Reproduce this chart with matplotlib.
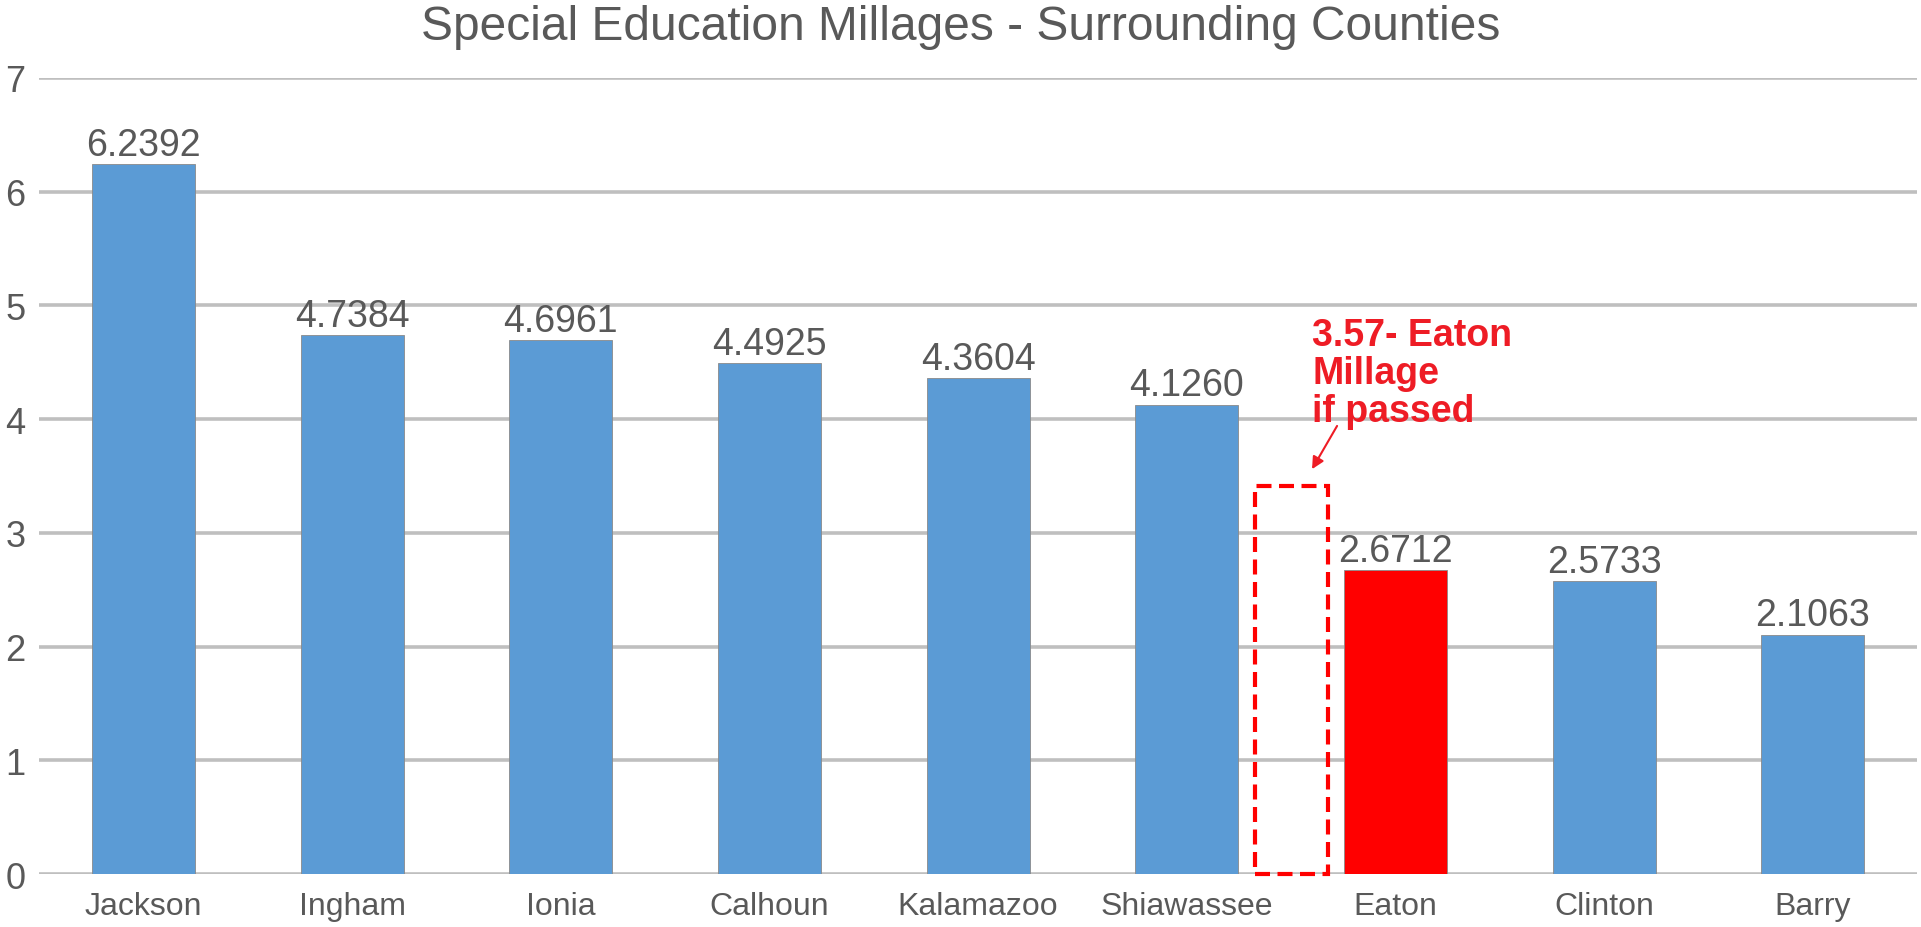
import matplotlib
matplotlib.use("Agg")
import matplotlib.pyplot as plt
from matplotlib.patches import Rectangle

counties = ["Jackson", "Ingham", "Ionia", "Calhoun", "Kalamazoo", "Shiawassee", "Eaton", "Clinton", "Barry"]
millages = [6.2392, 4.7384, 4.6961, 4.4925, 4.3604, 4.1260, 2.6712, 2.5733, 2.1063]
value_labels = ["6.2392", "4.7384", "4.6961", "4.4925", "4.3604", "4.1260", "2.6712", "2.5733", "2.1063"]
highlight = "Eaton"
proposed_value = 3.41  # drawn height of the dashed "if passed" box
annotation_text = "3.57- Eaton\nMillage\nif passed"
yticks = [0, 1, 2, 3, 4, 5, 6, 7]

plt.rcParams['font.family'] = ['Liberation Sans', 'DejaVu Sans']

BLUE = "#5b9bd5"
RED = "#ff0000"
GRAY_TXT = "#595959"
GRID = "#bfbfbf"

fig = plt.figure(figsize=(19.21, 9.28), dpi=100)
ax = fig.add_axes([0.0204, 0.057, 0.9776, 0.858])

positions = list(range(len(counties)))
colors = [RED if c == highlight else BLUE for c in counties]
ax.bar(positions, millages, width=0.495, color=colors, edgecolor="#8a8a8a",
       linewidth=0.6, zorder=3)

for x, v, lab in zip(positions, millages, value_labels):
    ax.annotate(lab, (x, v), xytext=(0, 1), textcoords="offset points",
                ha="center", va="bottom", fontsize=27, color=GRAY_TXT, zorder=4)

# dashed box for proposed millage
box_center = 5.5
box_w = 0.35
rect = Rectangle((box_center - box_w / 2, 0), box_w, proposed_value, fill=False,
                 edgecolor=RED, linewidth=3.0, linestyle=(0, (3.6, 1.8)), zorder=5,
                 clip_on=False)
ax.add_patch(rect)

ax.text(5.60, 4.90, annotation_text, color="#ee1c25", fontsize=27, fontweight="bold",
        ha="left", va="top", linespacing=1.08, zorder=6)
ax.annotate("", xy=(5.60, 3.56), xytext=(5.72, 3.94),
            arrowprops=dict(arrowstyle="-|>", color="#ee1c25", lw=1.5,
                            mutation_scale=18, shrinkA=0, shrinkB=0), zorder=6)

ax.set_xlim(-0.5, 8.5)
ax.set_ylim(0, 7)
ax.set_yticks(yticks)
ax.set_yticklabels([str(t) for t in yticks])
ax.set_xticks(positions)
ax.set_xticklabels(counties)
ax.yaxis.grid(True, color=GRID, linewidth=2.6, zorder=0)
ax.set_axisbelow(True)
for s in ax.spines.values():
    s.set_visible(False)
ax.tick_params(axis="both", length=0, labelcolor=GRAY_TXT)
ax.tick_params(axis="x", labelsize=23, pad=12)
ax.tick_params(axis="y", labelsize=26, pad=10)

fig.suptitle("Special Education Millages - Surrounding Counties", fontsize=34.5,
             color=GRAY_TXT, y=0.995, x=0.5)

fig.savefig("out.png", dpi=100)
